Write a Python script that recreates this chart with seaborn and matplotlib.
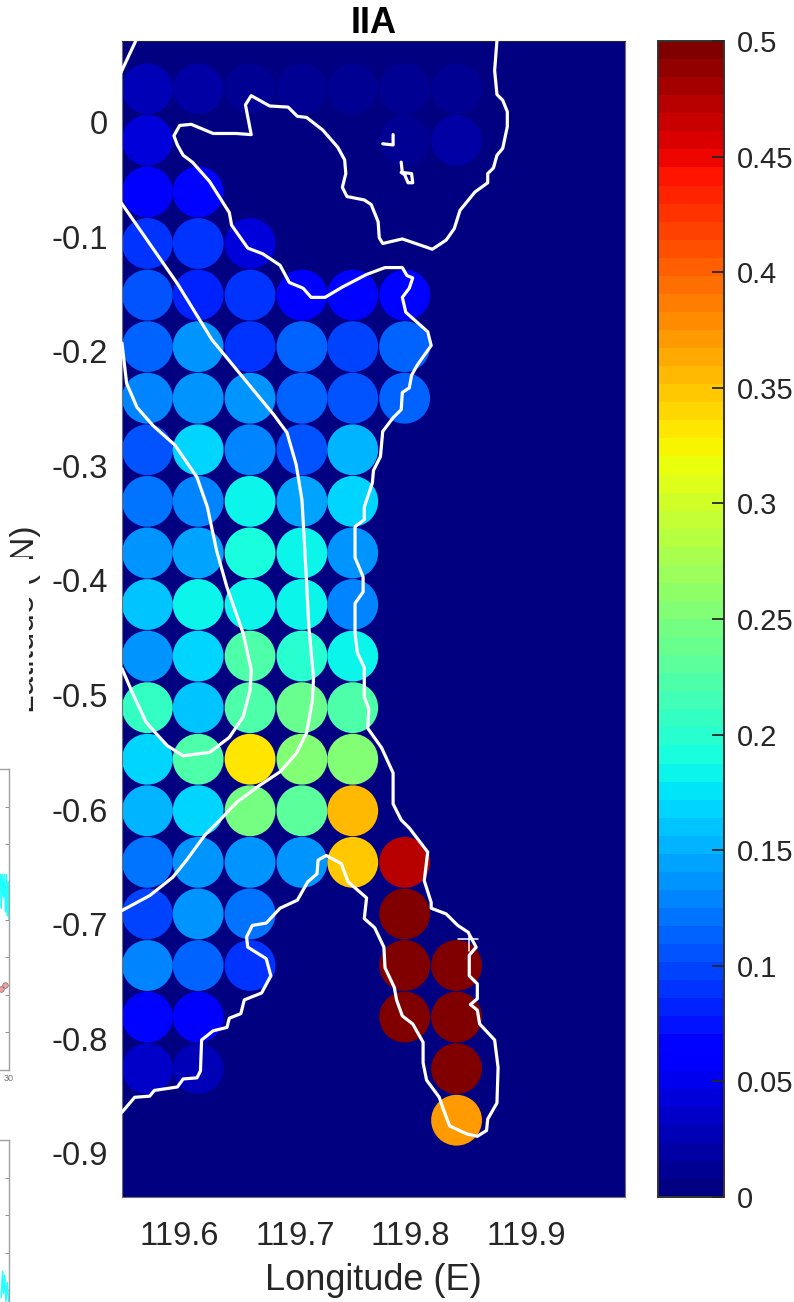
import numpy as np
import pandas as pd
import seaborn as sns
import matplotlib
matplotlib.use('Agg')
from matplotlib import pyplot as plt
from matplotlib.patches import Rectangle
from matplotlib.cm import ScalarMappable
from matplotlib.colors import Normalize

nan = float('nan')

# station grid
col_lon = [119.572, 119.616, 119.661, 119.706, 119.750, 119.795, 119.840]
row_lat = [0.029, -0.016, -0.061, -0.106, -0.151, -0.196, -0.241, -0.286, -0.331, -0.376, -0.421,
           -0.466, -0.511, -0.556, -0.601, -0.646, -0.691, -0.736, -0.781, -0.826, -0.871]
iia_values = [
    [0.024, 0.022, 0.012, 0.012, 0.010, 0.010, 0.010],
    [0.042, nan, nan, nan, 0.006, 0.009, 0.017],
    [0.058, 0.070, nan, nan, 0.004, 0.005, 0.006],
    [0.088, 0.088, 0.040, nan, nan, nan, nan],
    [0.105, 0.080, 0.088, 0.060, 0.063, 0.070, nan],
    [0.113, 0.140, 0.088, 0.113, 0.095, 0.113, nan],
    [0.130, 0.140, 0.140, 0.113, 0.105, 0.113, nan],
    [0.105, 0.170, 0.130, 0.105, 0.150, nan, nan],
    [0.120, 0.130, 0.180, 0.147, 0.165, nan, nan],
    [0.140, 0.142, 0.190, 0.180, 0.140, nan, nan],
    [0.158, 0.180, 0.180, 0.183, 0.130, nan, nan],
    [0.140, 0.165, 0.221, 0.196, 0.187, nan, nan],
    [0.204, 0.158, 0.221, 0.238, 0.221, nan, nan],
    [0.170, 0.221, 0.332, 0.254, 0.254, nan, nan],
    [0.156, 0.165, 0.246, 0.229, 0.358, nan, nan],
    [0.120, 0.140, 0.140, 0.140, 0.345, 0.470, nan],
    [0.095, 0.140, 0.120, nan, nan, 0.500, nan],
    [0.130, 0.113, 0.088, nan, nan, 0.500, 0.500],
    [0.070, 0.060, nan, nan, nan, 0.500, 0.500],
    [0.035, 0.030, nan, nan, nan, nan, 0.500],
    [nan, nan, nan, nan, nan, nan, 0.370],
]

# coastlines
coast_main_lon = [119.875, 119.873, 119.875, 119.880, 119.884, 119.884, 119.880, 119.875, 119.872, 119.867, 119.867,
                  119.856, 119.843, 119.838, 119.831, 119.819, 119.793, 119.776, 119.773, 119.772, 119.766, 119.760,
                  119.745, 119.741, 119.744, 119.743, 119.737, 119.724, 119.710, 119.702, 119.694, 119.678, 119.662,
                  119.657, 119.662, 119.649, 119.629, 119.610, 119.600, 119.595, 119.598, 119.603, 119.611, 119.626,
                  119.643, 119.645, 119.659, 119.672, 119.687, 119.695, 119.707, 119.714, 119.726, 119.741, 119.762,
                  119.778, 119.793, 119.797, 119.802, 119.799, 119.793, 119.796, 119.815, 119.818, 119.806, 119.801,
                  119.799, 119.793, 119.792, 119.785, 119.776, 119.774, 119.768, 119.767, 119.760, 119.760, 119.752,
                  119.752, 119.759, 119.759, 119.752, 119.752, 119.754, 119.760, 119.760, 119.764, 119.763, 119.775,
                  119.785, 119.785, 119.792, 119.799, 119.815, 119.812, 119.818, 119.818, 119.831, 119.841, 119.850,
                  119.857, 119.851, 119.851, 119.858, 119.858, 119.852, 119.858, 119.860, 119.873, 119.876, 119.875,
                  119.867, 119.866, 119.858, 119.849, 119.834, 119.828, 119.825, 119.814, 119.811, 119.811, 119.802,
                  119.793, 119.788, 119.786, 119.778, 119.777, 119.769, 119.760, 119.762, 119.746, 119.740, 119.727,
                  119.720, 119.719, 119.711, 119.702, 119.687, 119.675, 119.663, 119.658, 119.659, 119.675, 119.679,
                  119.671, 119.656, 119.653, 119.643, 119.641, 119.629, 119.619, 119.618, 119.615, 119.603, 119.598,
                  119.578, 119.574, 119.561, 119.550]
coast_main_lat = [0.071, 0.045, 0.024, 0.019, 0.009, -0.004, -0.023, -0.029, -0.040, -0.045, -0.053,
                  -0.061, -0.077, -0.093, -0.103, -0.111, -0.102, -0.106, -0.101, -0.087, -0.072, -0.068,
                  -0.065, -0.057, -0.045, -0.033, -0.022, -0.007, 0.004, 0.005, 0.013, 0.014, 0.023,
                  0.015, -0.011, -0.010, -0.010, -0.002, -0.003, -0.012, -0.020, -0.029, -0.035, -0.052,
                  -0.079, -0.090, -0.110, -0.115, -0.125, -0.140, -0.145, -0.153, -0.153, -0.144, -0.133,
                  -0.127, -0.127, -0.134, -0.136, -0.145, -0.153, -0.166, -0.183, -0.195, -0.212, -0.221,
                  -0.232, -0.236, -0.251, -0.258, -0.270, -0.292, -0.304, -0.315, -0.336, -0.347, -0.353,
                  -0.380, -0.397, -0.410, -0.420, -0.446, -0.463, -0.476, -0.502, -0.512, -0.529, -0.546,
                  -0.568, -0.595, -0.609, -0.616, -0.637, -0.662, -0.681, -0.686, -0.691, -0.701, -0.707,
                  -0.720, -0.727, -0.745, -0.752, -0.765, -0.770, -0.775, -0.787, -0.801, -0.825, -0.856,
                  -0.870, -0.880, -0.885, -0.883, -0.876, -0.860, -0.851, -0.836, -0.821, -0.803, -0.787,
                  -0.780, -0.766, -0.755, -0.738, -0.720, -0.703, -0.695, -0.677, -0.663, -0.647, -0.640,
                  -0.644, -0.656, -0.663, -0.679, -0.686, -0.699, -0.701, -0.711, -0.720, -0.730, -0.745,
                  -0.760, -0.766, -0.778, -0.782, -0.790, -0.793, -0.801, -0.828, -0.834, -0.835, -0.842,
                  -0.845, -0.850, -0.851, -0.864]
coast_corner_lon = [119.549, 119.562]
coast_corner_lat = [0.043, 0.071]
river_a_lon = [119.549, 119.598, 119.628, 119.655, 119.682, 119.693, 119.701, 119.706, 119.708, 119.710, 119.712,
               119.716, 119.715, 119.710, 119.701, 119.687, 119.669, 119.649, 119.635, 119.622, 119.606, 119.594,
               119.574, 119.550]
river_a_lat = [-0.070, -0.141, -0.190, -0.223, -0.256, -0.271, -0.299, -0.330, -0.365, -0.402, -0.441,
               -0.485, -0.505, -0.533, -0.551, -0.567, -0.579, -0.594, -0.609, -0.622, -0.644, -0.659,
               -0.675, -0.688]
river_b_lon = [119.550, 119.554, 119.563, 119.577, 119.596, 119.615, 119.624, 119.632, 119.641, 119.655, 119.662,
               119.661, 119.655, 119.643, 119.626, 119.603, 119.589, 119.571, 119.559, 119.550]
river_b_lat = [-0.193, -0.228, -0.249, -0.265, -0.282, -0.310, -0.336, -0.374, -0.406, -0.446, -0.478,
               -0.496, -0.519, -0.537, -0.550, -0.553, -0.544, -0.524, -0.498, -0.477]
islet_a_lon = [119.776, 119.785, 119.785]
islet_a_lat = [-0.019, -0.020, -0.011]
islet_b_lon = [119.792, 119.793, 119.801, 119.802, 119.798, 119.795, 119.792]
islet_b_lat = [-0.035, -0.044, -0.045, -0.053, -0.053, -0.046, -0.044]
cross_h_lon = [119.841, 119.859]
cross_h_lat = [-0.713, -0.713]
cross_v_lon = [119.851, 119.851]
cross_v_lat = [-0.707, -0.723]

x_ticks = [119.6, 119.7, 119.8, 119.9]
x_tick_labels = ['119.6', '119.7', '119.8', '119.9']
y_ticks = [0, -0.1, -0.2, -0.3, -0.4, -0.5, -0.6, -0.7, -0.8, -0.9]
y_tick_labels = ['0', '-0.1', '-0.2', '-0.3', '-0.4', '-0.5', '-0.6', '-0.7', '-0.8', '-0.9']
cbar_ticks = [0, 0.05, 0.1, 0.15, 0.2, 0.25, 0.3, 0.35, 0.4, 0.45, 0.5]
cbar_tick_labels = ['0', '0.05', '0.1', '0.15', '0.2', '0.25', '0.3', '0.35', '0.4', '0.45', '0.5']

# bits of the neighbouring panels that stick in at the left edge
side_top_x = [28.0, 28.2, 28.4, 28.7, 28.9, 29.2, 29.4, 29.6, 29.8, 30.0]
side_top_y = [5.2, 4.3, 5.2, 4.6, 5.2, 4.2, 5.2, 4.1, 5.0, 4.0]
side_red_x = [28.1, 29.0]
side_red_y = [2.15, 2.26]
side_low_x = [28.2, 28.5, 28.7, 29.0, 29.3, 29.6, 29.9]
side_low_y = [3.8, 4.5, 3.9, 4.4, 3.7, 4.2, 3.7]

W, H = 794, 1302
TXT = '#262626'

sns.set_style('white')
plt.rcParams['font.family'] = ['Liberation Sans', 'DejaVu Sans']

cmap = plt.get_cmap('jet', 64)

stations = pd.DataFrame(iia_values, index=row_lat, columns=col_lon)
stations = stations.stack().rename('iia').rename_axis(['lat', 'lon']).reset_index()

fig = plt.figure(figsize=(W / 100, H / 100), dpi=100)
ax = fig.add_axes([122 / W, 1 - 1197 / H, 503 / W, 1156 / H])
ax.set_facecolor(cmap(0))

sns.scatterplot(data=stations, x='lon', y='lat', hue='iia', hue_norm=(0, 0.5), palette=cmap,
                s=1340, linewidth=0, legend=False, ax=ax, zorder=2)

coast_lines = [(coast_main_lon, coast_main_lat), (coast_corner_lon, coast_corner_lat),
               (river_a_lon, river_a_lat), (river_b_lon, river_b_lat),
               (islet_a_lon, islet_a_lat), (islet_b_lon, islet_b_lat)]
for lons, lats in coast_lines:
    sns.lineplot(x=lons, y=lats, sort=False, estimator=None, color='white', linewidth=2.3, ax=ax, zorder=3,
                 solid_joinstyle='round')
for lons, lats in [(cross_h_lon, cross_h_lat), (cross_v_lon, cross_v_lat)]:
    sns.lineplot(x=lons, y=lats, sort=False, estimator=None, color='white', linewidth=1.1, ax=ax, zorder=3)

ax.set_xlim(119.55, 119.986)
ax.set_ylim(-0.938, 0.0707)
ax.set_xticks(x_ticks)
ax.set_xticklabels(x_tick_labels)
ax.set_yticks(y_ticks)
ax.set_yticklabels(y_tick_labels)
ax.tick_params(length=0, labelsize=23.5, labelcolor=TXT)
ax.tick_params(axis='x', pad=17)
ax.tick_params(axis='y', pad=10)
ax.set_xlabel('Longitude (E)', fontsize=26, color=TXT, labelpad=8)
ax.set_ylabel('')
ax.set_title('IIA', fontsize=26, fontweight='bold', color='black', pad=6)
for sp in ax.spines.values():
    sp.set_color('#707070')
    sp.set_linewidth(0.8)
ax.spines['top'].set_color(TXT)

# colorbar
cax = fig.add_axes([658 / W, 1 - 1197 / H, 66 / W, 1156 / H])
cb = fig.colorbar(ScalarMappable(Normalize(0, 0.5), cmap), cax=cax)
cb.set_ticks(cbar_ticks)
cb.set_ticklabels(cbar_tick_labels)
cb.minorticks_off()
cax.set_axisbelow(False)
cax.yaxis.set_zorder(5)
cax.tick_params(direction='in', length=9, width=1.3, color=TXT, labelsize=21, labelcolor=TXT, pad=9)
cb.outline.set_edgecolor('#333333')
cb.outline.set_linewidth(1.4)

# neighbouring panels, mostly off the figure
for top_px, bottom_px, xs, ys in [(769, 1070, side_top_x, side_top_y), (1140, 1440, side_low_x, side_low_y)]:
    side = fig.add_axes([-120 / W, 1 - bottom_px / H, 129 / W, (bottom_px - top_px) / H])
    sns.lineplot(x=xs, y=ys, sort=False, estimator=None, color='#22ffff', linewidth=1.1, ax=side)
    side.set_xlim(0, 30)
    side.set_ylim(0, 8)
    side.set_yticks(range(9))
    side.set_xticks([30])
    side.set_xticklabels(['30'] if top_px == 769 else [''])
    side.tick_params(left=False, right=True, bottom=False, labelleft=False, direction='in', length=3,
                     width=0.7, color='#909090', labelsize=6.5, labelcolor='#707070', pad=3)
    for sp in side.spines.values():
        sp.set_color('#a0a0a0')
        sp.set_linewidth(1.0)
    if top_px == 769:
        sns.scatterplot(x=side_red_x, y=side_red_y, color='#f2a0a0', s=16, linewidth=0.4, edgecolor='#555555',
                        legend=False, ax=side)

# y label is mostly hidden by a white panel on top of it
fig.text(41 / W, 1 - 619 / H, 'Latitude (\u00b0N)', rotation=90, ha='right', va='center',
         fontsize=24, color=TXT, zorder=1)
fig.patches.append(Rectangle((0, 1 - 716 / H), 29 / W, 159 / H, transform=fig.transFigure,
                             facecolor='white', edgecolor='none', zorder=2, figure=fig))

fig.savefig('out.png', dpi=100)
